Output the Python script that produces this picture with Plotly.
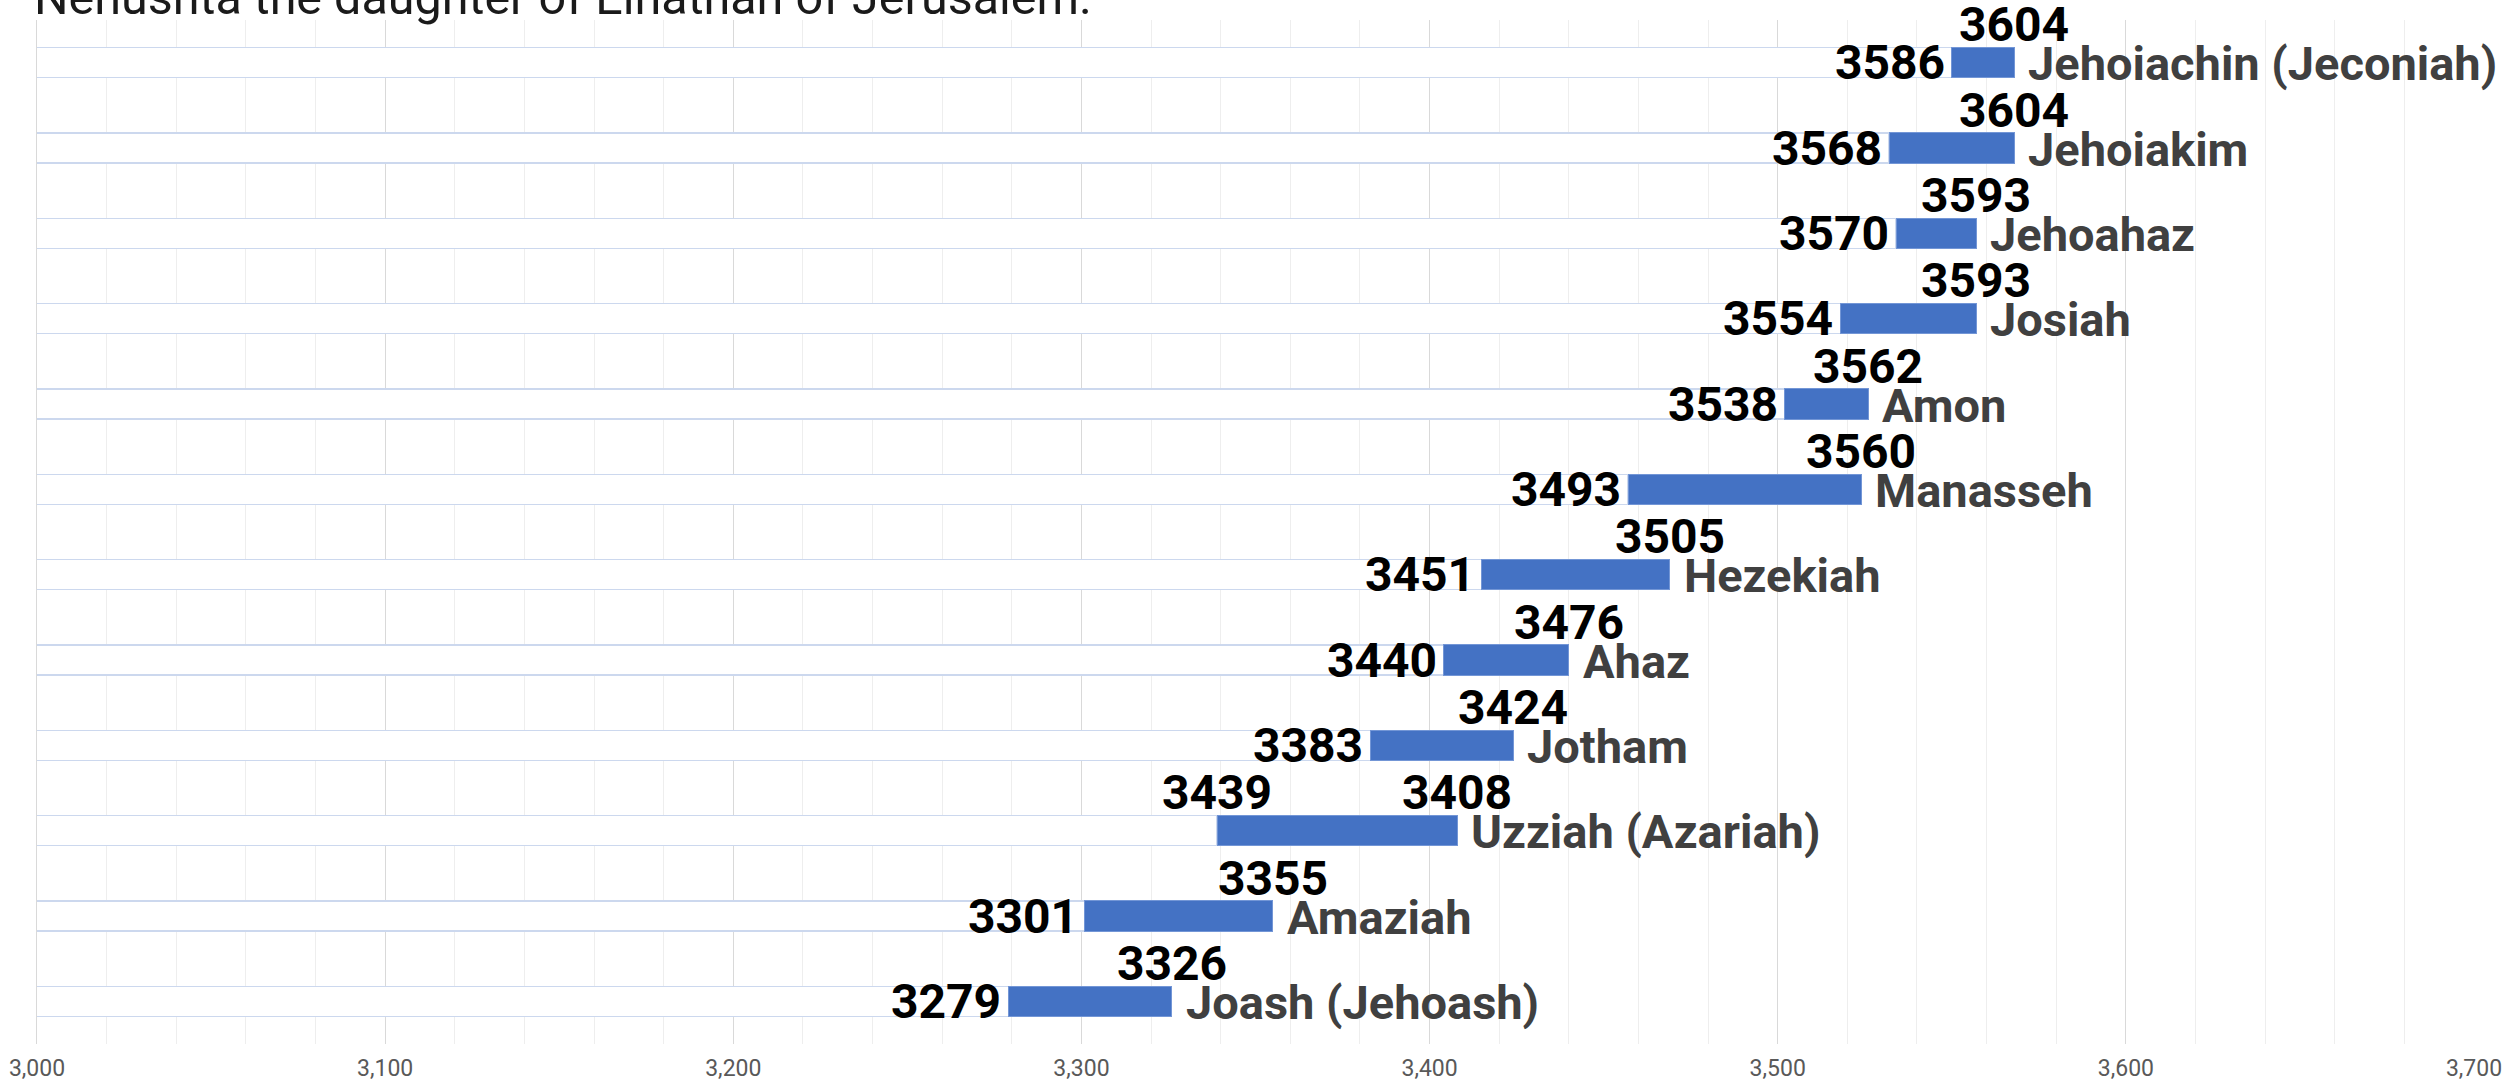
import plotly.graph_objects as go

# Kings of Judah, oldest at the bottom of the chart
kings = [
    "Joash (Jehoash)", "Amaziah", "Uzziah (Azariah)", "Jotham", "Ahaz", "Hezekiah",
    "Manasseh", "Amon", "Josiah", "Jehoahaz", "Jehoiakim", "Jehoiachin (Jeconiah)",
]

# Plotted reign spans (years)
reign_start = [3279, 3301, 3339, 3383, 3404, 3415, 3457, 3502, 3518, 3534, 3532, 3550]
reign_end = [3326, 3355, 3408, 3424, 3440, 3469, 3524, 3526, 3557, 3557, 3568, 3568]

# Years printed beside each bar (taken from their own columns of the table)
printed_start = [3279, 3301, 3439, 3383, 3440, 3451, 3493, 3538, 3554, 3570, 3568, 3586]
printed_end = [3326, 3355, 3408, 3424, 3476, 3505, 3560, 3562, 3593, 3593, 3604, 3604]

x_ticks = [3000, 3100, 3200, 3300, 3400, 3500, 3600, 3700]
x_tick_text = ["3,000", "3,100", "3,200", "3,300", "3,400", "3,500", "3,600", "3,700"]

title_line = "Nehushta the daughter of Elnathan of Jerusalem."

reign_length = [e - s for s, e in zip(reign_start, reign_end)]

LABEL_FONT = "Roboto"
BLUE = "#4472C4"

fig = go.Figure()

# Spacer series: white bars with a faint outline, from zero up to the reign start
fig.add_trace(go.Bar(
    y=kings, x=reign_start, orientation="h",
    marker=dict(color="white", line=dict(color="#ccd8ee", width=1.5)),
    hoverinfo="skip", showlegend=False,
))

# Reign series stacked on top of the spacer
fig.add_trace(go.Bar(
    y=kings, x=reign_length, orientation="h",
    marker=dict(color=BLUE, line=dict(color="#7396d6", width=1)),
    hovertemplate="%{y}<extra></extra>", showlegend=False,
))

annotations = []
label_font = dict(family=LABEL_FONT, size=48, color="#000000", weight="bold")
name_font = dict(family=LABEL_FONT, size=47, color="#404040", weight="bold")
start_above = {"Uzziah (Azariah)"}

for k, s, e, ps, pe in zip(kings, reign_start, reign_end, printed_start, printed_end):
    if k in start_above:
        annotations.append(dict(x=s, y=k, text=str(ps), showarrow=False,
                                xanchor="center", yanchor="middle", yshift=38,
                                font=label_font))
    else:
        annotations.append(dict(x=s, y=k, text=str(ps), showarrow=False,
                                xanchor="right", yanchor="middle", xshift=-5,
                                font=label_font))
    annotations.append(dict(x=e, y=k, text=str(pe), showarrow=False,
                            xanchor="center", yanchor="middle", yshift=38,
                            font=label_font))
    annotations.append(dict(x=e, y=k, text=k, showarrow=False,
                            xanchor="left", yanchor="middle", xshift=12, yshift=-1,
                            font=name_font))

# Chart title: only its last line stays inside the page
annotations.append(dict(
    xref="paper", yref="paper", x=0, y=1, xanchor="left", yanchor="bottom",
    xshift=-5, yshift=-8, text=title_line, showarrow=False,
    font=dict(family=LABEL_FONT, size=48.5, color="#1a1a1a"),
))

fig.update_layout(
    width=2514, height=1086,
    margin=dict(l=37, r=40, t=20, b=42, autoexpand=False),
    paper_bgcolor="white", plot_bgcolor="white",
    barmode="stack", bargap=0.648,
    annotations=annotations,
    xaxis=dict(
        range=[3000, 3700], tickvals=x_ticks, ticktext=x_tick_text,
        showgrid=True, gridcolor="#d9d9d9", gridwidth=1.3,
        minor=dict(dtick=20, tick0=3000, showgrid=True, gridcolor="#eeeeee", gridwidth=1.3),
        zeroline=False, showline=False, ticks="", ticklabelstandoff=8,
        tickfont=dict(family=LABEL_FONT, size=23, color="#595959"),
        automargin=False, fixedrange=True,
    ),
    yaxis=dict(
        categoryorder="array", categoryarray=kings, range=[-0.5, len(kings) - 0.5],
        showticklabels=False, showgrid=False, zeroline=False,
        showline=True, linecolor="#d9d9d9", linewidth=1.3,
        automargin=False, fixedrange=True,
    ),
)

fig.write_html("out.html")
